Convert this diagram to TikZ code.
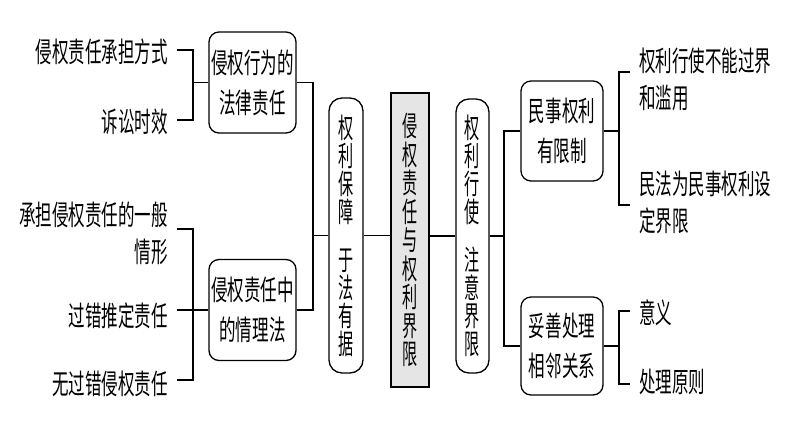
\documentclass[tikz,border=0pt]{standalone}
\usepackage{fontspec}
\newfontfamily\cjk[FakeStretch=0.59]{Noto Sans CJK SC}
\newfontfamily\cjkv[FakeStretch=0.54]{Noto Sans CJK SC}
\begin{document}
\begin{tikzpicture}[x=1pt,y=-1pt,
  txt/.style={inner sep=0pt,font={\cjk\fontsize{28}{37}\selectfont}},
  hbox/.style={draw,line width=1.3pt,rounded corners=10pt,inner sep=0pt,
    minimum width=87pt,minimum height=101pt,align=center,
    font={\cjk\fontsize{28}{40}\selectfont}},
  vbox/.style={draw,line width=1.3pt,rounded corners=13pt,inner sep=0pt,
    minimum width=34pt,minimum height=275pt,align=center,
    font={\cjkv\fontsize{28}{28}\selectfont}},
  cbox/.style={draw,line width=1.3pt,fill=black!10,inner sep=0pt,
    minimum width=38pt,minimum height=294pt,align=center,
    font={\cjkv\fontsize{28}{28.5}\selectfont}},
  conn/.style={line width=1.3pt}]
\useasboundingbox (0,0) rectangle (794,447);

% boxes
\node[hbox] (b1) at (252.5,82.5) {侵权行为的\\法律责任};
\node[hbox] (b2) at (252.5,310) {侵权责任中\\的情理法};
\node[vbox] (v1) at (346,235.5) {权\\利\\保\\障\\[20pt]于\\法\\有\\据};
\node[cbox] (c) at (410,240) {侵\\权\\责\\任\\与\\权\\利\\界\\限};
\node[vbox,minimum width=33pt,minimum height=274pt] (v2) at (472.5,236) {权\\利\\行\\使\\[20pt]注\\意\\界\\限};
\node[hbox,minimum width=82pt,minimum height=100pt] (r1) at (562,131) {民事权利\\有限制};
\node[hbox,minimum width=82pt,minimum height=98pt] (r2) at (562,346) {妥善处理\\相邻关系};

% left texts
\node[txt,anchor=east] (l1) at (168,52) {侵权责任承担方式};
\node[txt,anchor=east] (l2) at (168,122) {诉讼时效};
\node[txt,anchor=east,align=right] (l3) at (168,233) {承担侵权责任的一般\\情形};
\node[txt,anchor=east] (l4) at (168,316) {过错推定责任};
\node[txt,anchor=east] (l5) at (168,384) {无过错侵权责任};

% right texts
\node[txt,anchor=west,align=left] (t1) at (639,79) {权利行使不能过界\\和滥用};
\node[txt,anchor=west,align=left] (t2) at (639,202) {民法为民事权利设\\定界限};
\node[txt,anchor=west] (t3) at (639,313) {意义};
\node[txt,anchor=west] (t4) at (639,382) {处理原则};

% coordinates
\coordinate (a1) at (177,50);
\coordinate (a2) at (177,120);
\coordinate (ja) at (193,82.5);
\coordinate (a3) at (177,229);
\coordinate (a4) at (177,310);
\coordinate (a5) at (177,380);
\coordinate (jb) at (193,310);
\coordinate (jl) at (313,235.5);
\coordinate (jr) at (504,236);
\coordinate (c1) at (630,72);
\coordinate (c2) at (630,205);
\coordinate (jc) at (619,131);
\coordinate (c3) at (630,311);
\coordinate (c4) at (630,384);
\coordinate (jd) at (619,346);

% connectors
\draw[conn] (a1) -| (ja) |- (a2);
\draw[conn] (ja) -- (b1.west);
\draw[conn] (a3) -| (jb) |- (a5);
\draw[conn] (a4) -- (b2.west);
\draw[conn] (b1.east) -| (jl);
\draw[conn] (b2.east) -| (jl);
\draw[conn] (jl) -- (v1.west);
\draw[conn] (v1.east) -- (v1.east -| c.west);
\draw[conn] (v2.west -| c.east) -- (v2.west);
\draw[conn] (v2.east) -- (jr);
\draw[conn] (jr) |- (r1.west);
\draw[conn] (jr) |- (r2.west);
\draw[conn] (r1.east) -- (jc);
\draw[conn] (c1) -| (jc) |- (c2);
\draw[conn] (r2.east) -- (jd);
\draw[conn] (c3) -| (jd) |- (c4);
\end{tikzpicture}
\end{document}
